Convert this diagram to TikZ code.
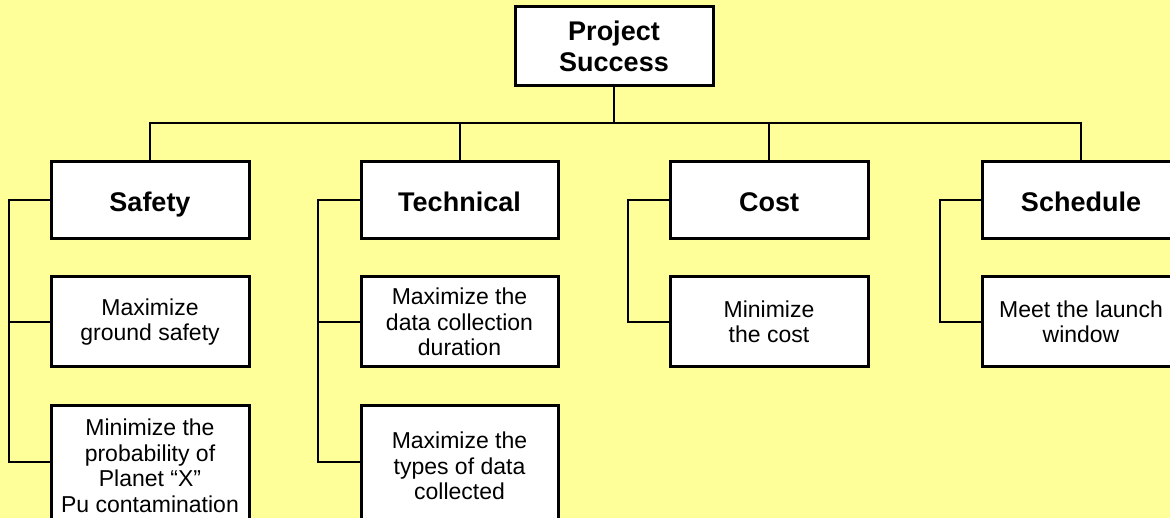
\documentclass[tikz,border=0pt]{standalone}
\usepackage{fontspec}
\setmainfont{Liberation Sans}
\usetikzlibrary{calc,backgrounds}
\definecolor{bgyellow}{HTML}{FFFF99}
\begin{document}
\begin{tikzpicture}[x=1pt,y=-1pt,
  box/.style={draw=black,line width=3pt,fill=white,rectangle,inner sep=0pt,
    minimum width=198pt,align=center},
  head/.style={box,minimum height=77pt,font=\fontsize{27}{31}\selectfont\bfseries},
  single/.style={text height=23pt,text depth=0pt},
  leaf/.style={box,minimum height=90pt,font=\fontsize{23}{25.5}\selectfont},
  tall/.style={box,minimum height=120pt,font=\fontsize{23}{25.5}\selectfont},
  wire/.style={draw=black,line width=2pt}]
\useasboundingbox (0,0) rectangle (1170,518);
\clip (0,0) rectangle (1170,518);

\node[head,minimum height=79pt] (ps) at (614,46.5) {Project\\Success};
\node[head,single] (safety) at (150,200.5) {Safety};
\node[head,single,minimum width=197pt] (technical) at (459.5,200.5) {Technical};
\node[head,single] (cost) at (769,200.5) {Cost};
\node[head,single] (schedule) at (1081,200.5) {Schedule};

\node[leaf] (s1) at (150,322) {Maximize\\ground safety};
\node[tall] (s2) at (150,466) {Minimize the\\probability of\\Planet “X”\\Pu contamination};
\node[leaf,minimum width=197pt] (t1) at (459.5,322) {Maximize the\\data collection\\duration};
\node[tall,minimum width=197pt] (t2) at (459.5,466) {Maximize the\\types of data\\collected};
\node[leaf] (c1) at (769,322) {Minimize\\the cost};
\node[leaf] (d1) at (1081,322) {Meet the launch\\window};

% named points for the connectors
\coordinate (bus) at (614,123);
\coordinate (sx) at (9,200.5);
\coordinate (tx) at (318,200.5);
\coordinate (cx) at (628,200.5);
\coordinate (dx) at (940,200.5);
\coordinate (s2w) at (51,462);
\coordinate (t2w) at (361,462);

\begin{scope}[on background layer]
\fill[bgyellow] (0,0) rectangle (1170,518);
\path[wire] (ps.south) -- (bus);
\path[wire] (safety.north) |- (bus) -| (schedule.north);
\path[wire] (technical.north) -- (technical.north |- bus);
\path[wire] (cost.north) -- (cost.north |- bus);

\path[wire] (safety.center) -- (sx) |- (s2w);
\path[wire] (sx |- s1.west) -- (s1.center);
\path[wire] (technical.center) -- (tx) |- (t2w);
\path[wire] (tx |- t1.west) -- (t1.center);
\path[wire] (cost.center) -- (cx) |- (c1.center);
\path[wire] (schedule.center) -- (dx) |- (d1.center);
\end{scope}
\end{tikzpicture}
\end{document}
